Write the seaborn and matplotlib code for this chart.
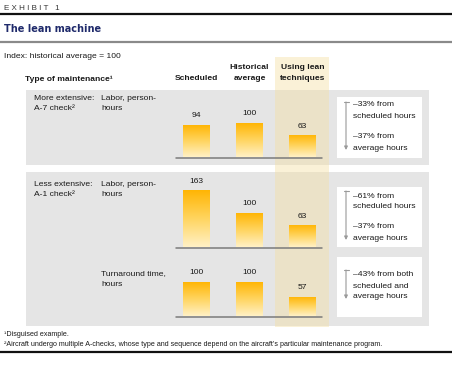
import numpy as np
import matplotlib
matplotlib.use("Agg")
import matplotlib.pyplot as plt
from matplotlib import font_manager
from matplotlib.colors import LinearSegmentedColormap
from matplotlib.patches import Rectangle
import seaborn as sns

# ---------------- data ----------------
methods = ["Scheduled", "Historical average", "Using lean techniques"]
header_lines = [["Scheduled"], ["Historical", "average"], ["Using lean", "techniques"]]
a7_labor = [94, 100, 63]
a1_labor = [163, 100, 63]
a1_turnaround = [100, 100, 57]
series = [a7_labor, a1_labor, a1_turnaround]
group_labels = [["More extensive:", "A-7 check²"], ["Less extensive:", "A-1 check²"]]
metric_labels = [["Labor, person-", "hours"], ["Labor, person-", "hours"],
                 ["Turnaround time,", "hours"]]
notes = [
    [["–33% from", "scheduled hours"], ["–37% from", "average hours"]],
    [["–61% from", "scheduled hours"], ["–37% from", "average hours"]],
    [["–43% from both", "scheduled and", "average hours"]],
]
exhibit = "E X H I B I T   1"
title = "The lean machine"
subtitle = "Index: historical average = 100"
col_header = "Type of maintenance¹"
footnotes = ["¹Disguised example.",
             "²Aircraft undergo multiple A-checks, whose type and sequence depend on the aircraft’s particular maintenance program."]

# ---------------- style ----------------
sns.set_style("white")
names = {f.name for f in font_manager.fontManager.ttflist}
narrow = "Liberation Sans Narrow" in names
FAM = ["Liberation Sans Narrow", "DejaVu Sans"] if narrow else ["Liberation Sans", "DejaVu Sans"]
plt.rcParams["font.family"] = FAM
FS = 6.8 if narrow else 6.1
FSN = 6.1 if narrow else 5.1
TXT = "#1a1a1a"

W, H = 455, 366
fig = plt.figure(figsize=(W / 100, H / 100), dpi=100)
bg = fig.add_axes([0, 0, 1, 1])
bg.set_xlim(0, W)
bg.set_ylim(H, 0)
bg.axis("off")

# rules
bg.plot([0, 452], [14, 14], color="#111111", lw=1.6, solid_capstyle="butt")
bg.plot([0, 452], [42, 42], color="#8a8a8a", lw=1.6, solid_capstyle="butt")
bg.plot([0, 452], [352, 352], color="#111111", lw=1.6, solid_capstyle="butt")

bg.text(4, 8, exhibit, fontsize=5.8, color="#333333", va="center", ha="left",
        family=["Liberation Sans", "DejaVu Sans"])
bg.text(4, 29, title, fontsize=7.0, color="#1f2a6b", va="center", ha="left",
        weight="bold", family=["DejaVu Sans"])
bg.text(4, 56, subtitle, fontsize=FS, color=TXT, va="center", ha="left")

# panels
panels = [(26, 90, 403, 75), (26, 172, 403, 154)]
for (x, y, w, h) in panels:
    bg.add_patch(Rectangle((x, y), w, h, facecolor="#e5e5e5", edgecolor="none", zorder=1))
# highlight column
bg.add_patch(Rectangle((275, 57), 54, 270, facecolor="#f5dfa0", alpha=0.42,
                       edgecolor="none", zorder=2))

# headers
bg.text(25, 79, col_header, fontsize=FS, weight="bold", color=TXT, va="center", ha="left")
col_x = [196, 249.5, 302.5]
for cx, lines in zip(col_x, header_lines):
    n = len(lines)
    for i, ln in enumerate(lines):
        y = 79 - (n - 1 - i) * 11.5
        bg.text(cx, y, ln, fontsize=FS, weight="bold", color=TXT, va="center", ha="center")

# row labels
group_y = [99, 185]
for gy, lines in zip(group_y, group_labels):
    for i, ln in enumerate(lines):
        bg.text(34, gy + i * 10, ln, fontsize=FS, color=TXT, va="center", ha="left")
metric_y = [99, 185, 274]
for my, lines in zip(metric_y, metric_labels):
    for i, ln in enumerate(lines):
        bg.text(101, my + i * 10, ln, fontsize=FS, color=TXT, va="center", ha="left")

# note boxes
boxes = [(97, 158), (187, 247), (257, 317)]
arrows = [(102, 150), (191, 240), (270, 299)]
text_y = [[105, 116.5, 137, 148.5], [196, 207, 227, 238], [275, 286, 297]]
for (t, b), (at, ab), tys, nt in zip(boxes, arrows, text_y, notes):
    bg.add_patch(Rectangle((337, t), 85, b - t, facecolor="white", edgecolor="none", zorder=3))
    bg.annotate("", xy=(346, ab), xytext=(346, at),
                arrowprops=dict(arrowstyle="-|>", color="#9a9a9a", lw=0.8,
                                mutation_scale=5, shrinkA=0, shrinkB=0), zorder=4)
    bg.plot([343.5, 348.5], [at, at], color="#9a9a9a", lw=0.8, zorder=4)
    lines = [ln for block in nt for ln in block]
    for ty, ln in zip(tys, lines):
        bg.text(353, ty, ln, fontsize=FS, color=TXT, va="center", ha="left", zorder=5)

# footnotes
bg.text(4, 335, footnotes[0], fontsize=FSN, color=TXT, va="center", ha="left")
bg.text(4, 344.5, footnotes[1], fontsize=FSN, color=TXT, va="center", ha="left")

# ---------------- bars ----------------
cmap = LinearSegmentedColormap.from_list("g", ["#fff1c6", "#ffd45e", "#ffb400"])
grad = np.linspace(0, 1, 256).reshape(-1, 1)
PX_PER_UNIT = 0.35
AX_H = 72
baselines = [157.5, 247.5, 316.5]
x_left, x_right = 176, 322
spacing = 53.25
xlo = (x_left - col_x[0]) / spacing
xhi = 2 + (x_right - col_x[2]) / spacing
for base, vals in zip(baselines, series):
    ax = fig.add_axes([x_left / W, (H - base) / H, (x_right - x_left) / W, AX_H / H])
    ax.set_zorder(3)
    ax.patch.set_visible(False)
    sns.barplot(x=methods, y=vals, ax=ax, width=0.5, color="#ffb400", saturation=1)
    ylim = (0, AX_H / PX_PER_UNIT)
    for p in list(ax.patches):
        x0, w, h = p.get_x(), p.get_width(), p.get_height()
        im = ax.imshow(grad, extent=[x0, x0 + w, 0, h], origin="lower", aspect="auto",
                       cmap=cmap, zorder=2)
        im.set_clip_path(p)
        p.set_facecolor("none")
        p.set_edgecolor("none")
    ax.bar_label(ax.containers[0], labels=[str(v) for v in vals], padding=4,
                 fontsize=FS, color=TXT)
    ax.set_xlim(xlo, xhi)
    ax.set_ylim(*ylim)
    ax.axhline(0, color="#7a7a7a", lw=1.1, clip_on=False, zorder=3)
    ax.set_xticks([])
    ax.set_yticks([])
    ax.set_xlabel("")
    ax.set_ylabel("")
    for s in ax.spines.values():
        s.set_visible(False)

fig.savefig("out.png", dpi=100)
